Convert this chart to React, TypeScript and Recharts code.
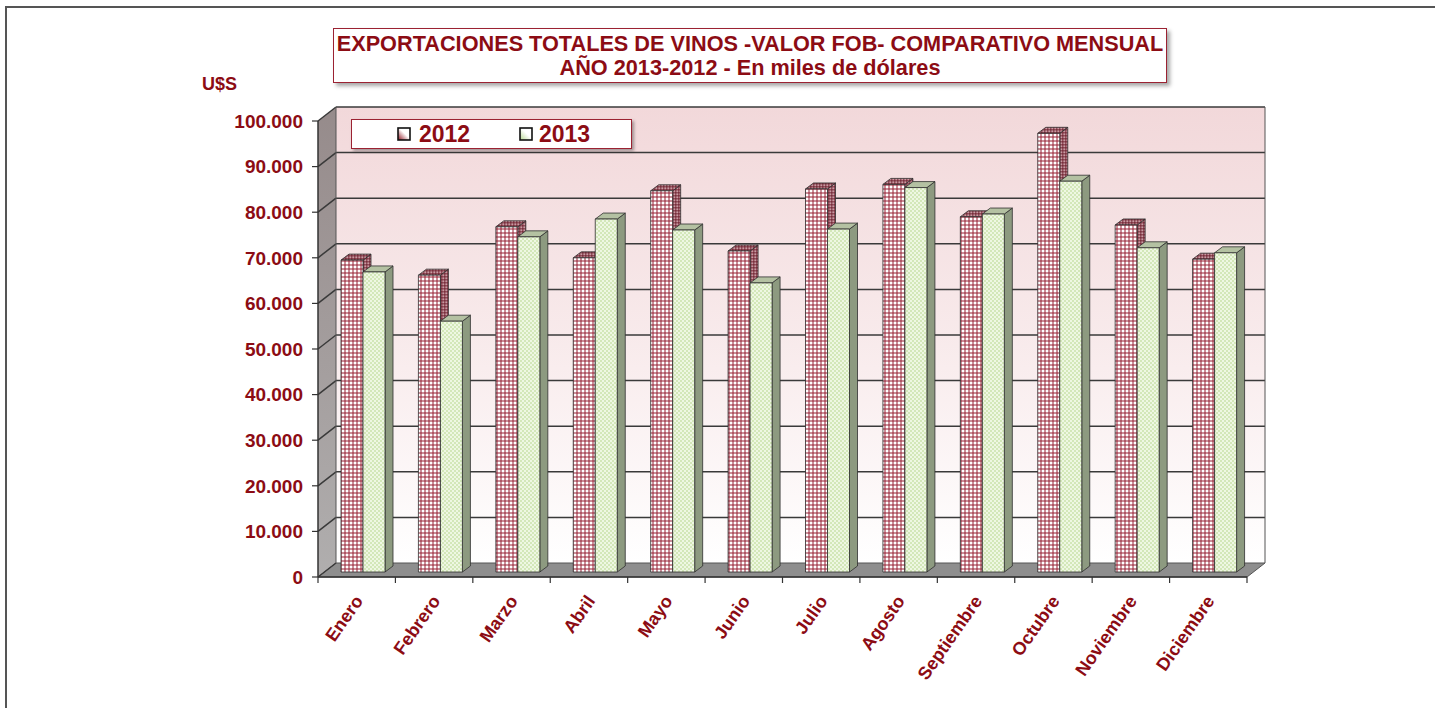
import * as React from 'react';
import { BarChart, Bar, XAxis, YAxis, ReferenceArea } from 'recharts';

const months = ['Enero', 'Febrero', 'Marzo', 'Abril', 'Mayo', 'Junio', 'Julio', 'Agosto', 'Septiembre', 'Octubre', 'Noviembre', 'Diciembre'];
const exports2012 = [68400, 65100, 75700, 68900, 83600, 70400, 84000, 85000, 77900, 96200, 76100, 68600];
const exports2013 = [65800, 55000, 73500, 77400, 75000, 63400, 75200, 84300, 78500, 85700, 71100, 70000];
const yTicks = [0, 10000, 20000, 30000, 40000, 50000, 60000, 70000, 80000, 90000, 100000];

const DARK_RED = '#8c0c14';
const FONT = '"Liberation Sans", Arial, sans-serif';

// 3D depth of the walls and of the bars
const WALL_DX = 18;
const WALL_DY = -14;
const BAR_SHIFT_X = 6;
const BAR_SHIFT_Y = -5;
const BAR_DX = 8;
const BAR_DY = -6;

const chartData = months.map((m, i) => ({ month: m, y2012: exports2012[i], y2013: exports2013[i] }));

const fmt = (v: number) => v.toLocaleString('de-DE');

function Walls(props: any) {
  const { x, y, width, height } = props;
  const step = height / (yTicks.length - 1);
  const bottom = y + height;
  return (
    <g>
      <polygon
        points={`${x},${y} ${x + WALL_DX},${y + WALL_DY} ${x + WALL_DX},${bottom + WALL_DY} ${x},${bottom}`}
        fill="url(#sideWall)"
      />
      <rect x={x + WALL_DX} y={y + WALL_DY} width={width} height={height} fill="url(#backWall)" />
      <polygon
        points={`${x},${bottom} ${x + width},${bottom} ${x + width + WALL_DX},${bottom + WALL_DY} ${x + WALL_DX},${bottom + WALL_DY}`}
        fill="#8e8e8e"
        stroke="#555"
        strokeWidth={1}
      />
      {yTicks.map((t, i) => {
        const gy = bottom - i * step;
        return (
          <g key={t}>
            <line x1={x} y1={gy} x2={x + WALL_DX} y2={gy + WALL_DY} stroke="#3a3a3a" strokeWidth={1.5} />
            {i > 0 && (
              <line x1={x + WALL_DX} y1={gy + WALL_DY} x2={x + width + WALL_DX} y2={gy + WALL_DY} stroke="#3a3a3a" strokeWidth={1.5} />
            )}
          </g>
        );
      })}
      <line x1={x + WALL_DX} y1={y + WALL_DY} x2={x + WALL_DX} y2={bottom + WALL_DY} stroke="#555" strokeWidth={1} />
      <line x1={x + width + WALL_DX} y1={y + WALL_DY} x2={x + width + WALL_DX} y2={bottom + WALL_DY} stroke="#555" strokeWidth={1} />
    </g>
  );
}

const make3DBar = (front: string, side: string, top: string) => (props: any) => {
  const { x, y, width, height } = props;
  if (!height || height <= 0) return <g />;
  const X = x + BAR_SHIFT_X;
  const Y = y + BAR_SHIFT_Y;
  const R = X + width;
  const B = Y + height;
  return (
    <g stroke="#2e2e2e" strokeWidth={0.8} strokeLinejoin="round">
      <polygon points={`${R},${Y} ${R + BAR_DX},${Y + BAR_DY} ${R + BAR_DX},${B + BAR_DY} ${R},${B}`} fill={side} />
      <polygon points={`${X},${Y} ${X + BAR_DX},${Y + BAR_DY} ${R + BAR_DX},${Y + BAR_DY} ${R},${Y}`} fill={top} />
      <rect x={X} y={Y} width={width} height={height} fill={front} />
    </g>
  );
};

const Bar2012 = make3DBar('url(#check2012)', 'url(#side2012)', 'url(#side2012)');
const Bar2013 = make3DBar('url(#check2013)', '#8d9a80', '#b4c1a2');

function MonthTick(props: any) {
  const { x, y, payload, index } = props;
  const half = payload && payload.offset ? payload.offset : (1247 - 318) / 24;
  const ax = x + 7;
  const ay = y + 16;
  return (
    <g>
      <line x1={x - half} y1={y - 8} x2={x - half} y2={y - 2} stroke="#333" strokeWidth={1.2} />
      {index === months.length - 1 && (
        <line x1={x + half} y1={y - 8} x2={x + half} y2={y - 2} stroke="#333" strokeWidth={1.2} />
      )}
      <text
        x={ax}
        y={ay}
        textAnchor="end"
        transform={`rotate(-55, ${ax}, ${ay})`}
        fill={DARK_RED}
        fontFamily={FONT}
        fontWeight="bold"
        fontSize={18}
      >
        {payload.value}
      </text>
    </g>
  );
}

function LegendIcon({ color }: { color: string }) {
  return (
    <svg width={14} height={14} style={{ display: 'block' }}>
      <defs>
        <linearGradient id={`lg${color}`} x1="0" y1="1" x2="1" y2="0">
          <stop offset="0" stopColor={color} />
          <stop offset="0.55" stopColor="#fff" />
        </linearGradient>
      </defs>
      <rect x={1} y={1} width={12} height={12} fill={`url(#lg${color})`} stroke="#111" strokeWidth={1.6} />
    </svg>
  );
}

export default function App() {
  return (
    <div style={{ position: 'absolute', left: 0, top: 0, width: 1435, height: 708, background: '#fff', overflow: 'hidden', fontFamily: FONT }}>
      <svg width={0} height={0} style={{ position: 'absolute' }}>
        <defs>
          <pattern id="check2012" width={4} height={4} patternUnits="userSpaceOnUse">
            <rect width={4} height={4} fill="#fff" />
            <rect width={4} height={2} fill="rgba(150,30,50,0.5)" />
            <rect width={2} height={4} fill="rgba(150,30,50,0.5)" />
          </pattern>
          <pattern id="side2012" width={3} height={3} patternUnits="userSpaceOnUse">
            <rect width={3} height={3} fill="#c99aa2" />
            <rect width={3} height={1.5} fill="rgba(100,20,35,0.55)" />
            <rect width={1.5} height={3} fill="rgba(100,20,35,0.55)" />
          </pattern>
          <pattern id="check2013" width={4} height={4} patternUnits="userSpaceOnUse">
            <rect width={4} height={4} fill="#eef7e2" />
            <rect width={2} height={2} fill="#d3e7b9" />
            <rect x={2} y={2} width={2} height={2} fill="#d3e7b9" />
          </pattern>
          <linearGradient id="backWall" x1="0" y1="0" x2="0" y2="1">
            <stop offset="0" stopColor="#f2d8da" />
            <stop offset="0.5" stopColor="#f8eaeb" />
            <stop offset="1" stopColor="#ffffff" />
          </linearGradient>
          <linearGradient id="sideWall" x1="0" y1="0" x2="0" y2="1">
            <stop offset="0" stopColor="#968b8b" />
            <stop offset="1" stopColor="#b0aeae" />
          </linearGradient>
        </defs>
      </svg>

      {/* outer frame */}
      <div style={{ position: 'absolute', left: 5, top: 6, width: 1500, height: 800, borderLeft: '2px solid #555', borderTop: '2px solid #555' }} />

      {/* title */}
      <div
        style={{
          position: 'absolute', left: 333, top: 28, width: 834, height: 55, background: '#fff',
          border: '1.5px solid #9b2232', boxShadow: '3px 3px 4px rgba(0,0,0,0.35)', color: DARK_RED,
          fontWeight: 'bold', fontSize: 21.7, lineHeight: '24px', textAlign: 'center', paddingTop: 3, boxSizing: 'border-box',
          whiteSpace: 'nowrap',
        }}
      >
        <div>EXPORTACIONES TOTALES DE VINOS -VALOR FOB- COMPARATIVO MENSUAL</div>
        <div>AÑO 2013-2012 - En miles de dólares</div>
      </div>

      <div style={{ position: 'absolute', left: 202, top: 74, color: DARK_RED, fontWeight: 'bold', fontSize: 18 }}>U$S</div>

      <div style={{ position: 'absolute', left: 0, top: 0 }}>
        <BarChart width={1435} height={708} data={chartData} margin={{ top: 121, right: 188, bottom: 31, left: 238 }} barSize={22} barGap={0}>
          <ReferenceArea y1={0} y2={100000} shape={Walls} ifOverflow="visible" />
          <XAxis
            dataKey="month"
            height={100}
            interval={0}
            axisLine={{ stroke: '#333', strokeWidth: 1.5 }}
            tickLine={false}
            tick={<MonthTick />}
          />
          <YAxis
            width={80}
            domain={[0, 100000]}
            ticks={yTicks}
            tickFormatter={fmt}
            axisLine={{ stroke: '#333', strokeWidth: 1.5 }}
            tickLine={{ stroke: '#333', strokeWidth: 1.2 }}
            tickSize={6}
            tickMargin={9}
            tick={{ fill: DARK_RED, fontFamily: FONT, fontWeight: 'bold', fontSize: 19 }}
          />
          <Bar dataKey="y2012" name="2012" shape={Bar2012} isAnimationActive={false} />
          <Bar dataKey="y2013" name="2013" shape={Bar2013} isAnimationActive={false} />
        </BarChart>
      </div>

      {/* legend */}
      <div
        style={{
          position: 'absolute', left: 351, top: 119, width: 281, height: 30, background: '#fff',
          border: '1.5px solid #9b2232', boxShadow: '2px 2px 3px rgba(0,0,0,0.35)', boxSizing: 'border-box',
          color: DARK_RED, fontWeight: 'bold', fontSize: 23,
        }}
      >
        <div style={{ position: 'absolute', left: 45, top: 7 }}><LegendIcon color="#8c1420" /></div>
        <div style={{ position: 'absolute', left: 67, top: 1 }}>2012</div>
        <div style={{ position: 'absolute', left: 167, top: 7 }}><LegendIcon color="#b5d690" /></div>
        <div style={{ position: 'absolute', left: 187, top: 1 }}>2013</div>
      </div>
    </div>
  );
}
